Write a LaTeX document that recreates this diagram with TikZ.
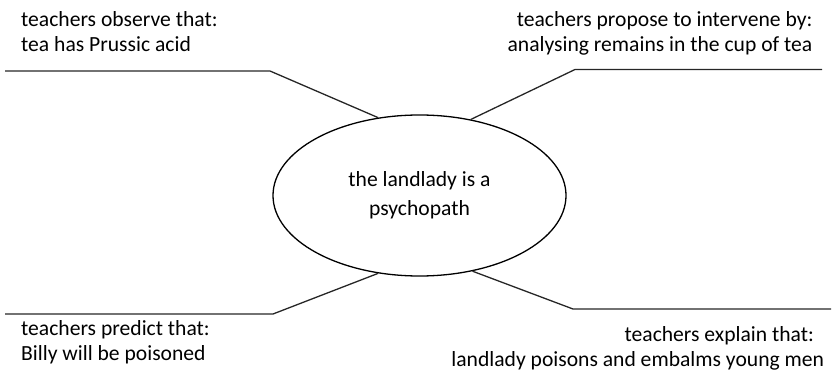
\documentclass[tikz,border=0pt]{standalone}
\usepackage{fontspec}
\setmainfont{Carlito}
\usetikzlibrary{shapes.geometric}
\begin{document}
\begin{tikzpicture}[x=1pt,y=-1pt,
  lbl/.style={inner sep=0pt,font=\fontsize{21.6}{25}\selectfont},
  conn/.style={line width=1.3pt,black!85}]
\useasboundingbox (0,0) rectangle (832,379);
\node[ellipse,draw,line width=1.3pt,minimum width=293pt,minimum height=161pt,inner sep=0pt,
  align=center,font=\fontsize{21.6}{29}\selectfont] (c) at (419.5,195.5)
  {the landlady is a\\psychopath};
% text labels (base anchor = baseline of last line)
\node[lbl,anchor=base west,align=left] (tl) at (21,51.7) {teachers observe that:\\tea has Prussic acid};
\node[lbl,anchor=base east,align=right] (tr) at (812.5,52) {teachers propose to intervene by:\\analysing remains in the cup of tea};
\node[lbl,anchor=base west,align=left] (bl) at (21,360) {teachers predict that:\\Billy will be poisoned};
\node[lbl,anchor=base east,align=right] (br) at (824.3,366.7) {teachers explain that:\hspace*{10.3pt}\\landlady poisons and embalms young men};
% connector points
\coordinate (tla) at (5,71);   \coordinate (tlb) at (270,71);
\coordinate (tra) at (822,69.5); \coordinate (trb) at (575,69.5);
\coordinate (bla) at (5,314);  \coordinate (blb) at (273,314);
\coordinate (bra) at (831,309); \coordinate (brb) at (573,309);
\draw[conn] (tla) -- (tlb) -- (c.118);
\draw[conn] (tra) -- (trb) -- (c.56.6);
\draw[conn] (bla) -- (blb) -- (c.-118.2);
\draw[conn] (bra) -- (brb) -- (c.-55.9);
\end{tikzpicture}
\end{document}
